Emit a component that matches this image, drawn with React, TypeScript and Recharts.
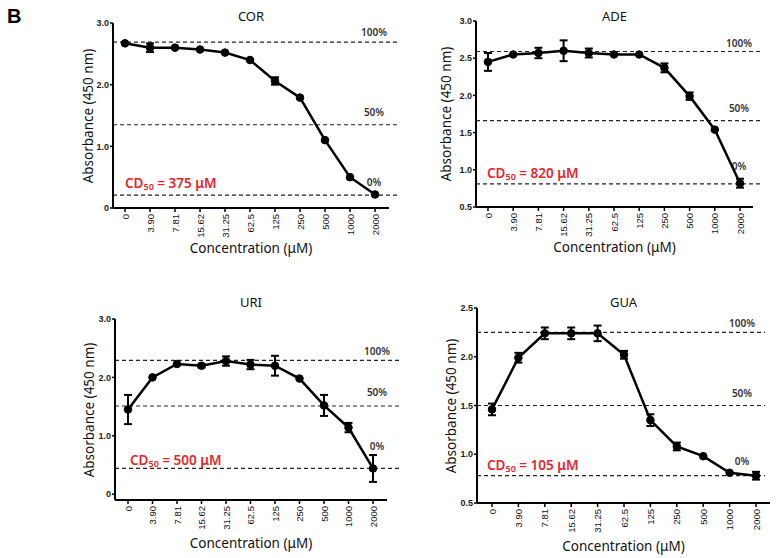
import React from 'react';
import { LineChart, Line, XAxis, YAxis, ErrorBar, ReferenceLine } from 'recharts';

const CATEGORIES = ['0', '3.90', '7.81', '15.62', '31.25', '62.5', '125', '250', '500', '1000', '2000'];

const COR_MEAN = [2.67, 2.6, 2.6, 2.57, 2.52, 2.4, 2.06, 1.79, 1.1, 0.5, 0.22];
const COR_ERR = [0, 0.07, 0, 0, 0, 0, 0.06, 0, 0, 0, 0];
const COR_LEVELS = [2.69, 1.35, 0.21];

const ADE_MEAN = [2.45, 2.55, 2.57, 2.6, 2.57, 2.55, 2.55, 2.37, 1.99, 1.54, 0.82];
const ADE_ERR = [0.12, 0, 0.07, 0.14, 0.06, 0, 0, 0.06, 0.05, 0, 0.06];
const ADE_LEVELS = [2.59, 1.66, 0.81];

const URI_MEAN = [1.45, 2.0, 2.23, 2.2, 2.28, 2.22, 2.2, 1.98, 1.52, 1.14, 0.44];
const URI_ERR = [0.25, 0, 0, 0.03, 0.08, 0.08, 0.17, 0, 0.18, 0.08, 0.23];
const URI_LEVELS = [2.29, 1.51, 0.44];

const GUA_MEAN = [1.46, 1.99, 2.24, 2.24, 2.24, 2.02, 1.35, 1.08, 0.98, 0.81, 0.78];
const GUA_ERR = [0.06, 0.05, 0.06, 0.06, 0.08, 0.04, 0.06, 0.04, 0, 0, 0.04];
const GUA_LEVELS = [2.25, 1.5, 0.78];

const LEVEL_LABELS = ['100%', '50%', '0%'];

const TICKS_0_3 = [0, 1, 2, 3];
const TICKS_05_3 = [0.5, 1, 1.5, 2, 2.5, 3];
const TICKS_05_25 = [0.5, 1, 1.5, 2, 2.5];

const FONT = '"Noto Sans", "Open Sans", sans-serif';
const TICK_FONT = '"Liberation Sans", Arial, sans-serif';
const RED = '#e3262d';

const Y_W = 50;
const M_TOP = 12;
const M_RIGHT = 18;
const X_H = 56;

const panels = [
  {
    title: 'COR', mean: COR_MEAN, err: COR_ERR, levels: COR_LEVELS, cd50: '375',
    domain: [0, 3], ticks: TICKS_0_3,
    axisX: 113, plotTop: 23, plotBottom: 208, plotRight: 389, padL: 12, padR: 14,
    dashExt: 9, labelInset: 15, labelRise: [10, 12, 13],
    titleY: 16, yTitleDx: 25, xTitleDy: 40, cdX: 125, cdY: 183,
  },
  {
    title: 'ADE', mean: ADE_MEAN, err: ADE_ERR, levels: ADE_LEVELS, cd50: '820',
    domain: [0.5, 3], ticks: TICKS_05_3,
    axisX: 476, plotTop: 21, plotBottom: 207, plotRight: 753, padL: 12, padR: 13,
    dashExt: 7, labelInset: 14, labelRise: [8, 12, 17],
    titleY: 16, yTitleDx: 30, xTitleDy: 40, cdX: 487, cdY: 173,
  },
  {
    title: 'URI', mean: URI_MEAN, err: URI_ERR, levels: URI_LEVELS, cd50: '500',
    domain: [-0.1, 3], ticks: TICKS_0_3,
    axisX: 115, plotTop: 319, plotBottom: 500, plotRight: 387, padL: 13, padR: 14,
    dashExt: 13, labelInset: 10, labelRise: [9, 13, 22],
    titleY: 302, yTitleDx: 26, xTitleDy: 43, cdX: 130, cdY: 460,
  },
  {
    title: 'GUA', mean: GUA_MEAN, err: GUA_ERR, levels: GUA_LEVELS, cd50: '105',
    domain: [0.5, 2.5], ticks: TICKS_05_25,
    axisX: 477, plotTop: 308, plotBottom: 503, plotRight: 770, padL: 15, padR: 14,
    dashExt: -5, labelInset: 28, labelRise: [9, 12, 14],
    titleY: 302, yTitleDx: 26, xTitleDy: 43, cdX: 487, cdY: 465,
  },
];

const fmtY = (v: number) => (v === 0 ? '0' : v.toFixed(1));

const XTick = (props: any) => {
  const { x, y, payload } = props;
  return (
    <text
      x={x}
      y={y}
      transform={`rotate(-90 ${x} ${y})`}
      textAnchor="end"
      dominantBaseline="central"
      fontSize={9.5}
      fontFamily={TICK_FONT}
      fill="#111"
    >
      {payload.value}
    </text>
  );
};

function Panel({ p }: { p: any }) {
  const data = CATEGORIES.map((c, i) => ({ conc: c, mean: p.mean[i], err: p.err[i] }));
  const left = p.axisX - Y_W;
  const top = p.plotTop - M_TOP;
  const width = p.plotRight + M_RIGHT - left;
  const height = p.plotBottom + X_H - top;
  const plotMidX = (p.axisX + p.plotRight) / 2;
  const plotMidY = (p.plotTop + p.plotBottom) / 2;

  return (
    <>
      <div
        style={{
          position: 'absolute', left: p.axisX, width: p.plotRight - p.axisX, top: p.titleY - 10,
          height: 20, lineHeight: '20px', textAlign: 'center', fontSize: 13, fontFamily: FONT, color: '#111',
        }}
      >
        {p.title}
      </div>
      <div style={{ position: 'absolute', left, top, width, height }}>
        <LineChart width={width} height={height} data={data} margin={{ top: M_TOP, right: M_RIGHT, left: 0, bottom: 0 }}>
          <XAxis
            dataKey="conc"
            scale="point"
            padding={{ left: p.padL, right: p.padR }}
            height={X_H}
            interval={0}
            axisLine={{ stroke: '#000', strokeWidth: 2 }}
            tickLine={{ stroke: '#000', strokeWidth: 1.5 }}
            tickSize={4}
            tickMargin={2}
            tick={<XTick />}
          />
          <YAxis
            type="number"
            domain={p.domain}
            ticks={p.ticks}
            allowDataOverflow
            width={Y_W}
            interval={0}
            axisLine={{ stroke: '#000', strokeWidth: 2 }}
            tickLine={{ stroke: '#000', strokeWidth: 1.5 }}
            tickSize={3}
            tickMargin={1}
            tickFormatter={fmtY}
            tick={{ fontSize: 9, fontWeight: 700, fill: '#222', fontFamily: TICK_FONT }}
          />
          {p.levels.map((lv: number, i: number) => (
            <ReferenceLine
              key={i}
              y={lv}
              shape={(s: any) => (
                <g>
                  <line
                    x1={s.x1}
                    y1={s.y1}
                    x2={s.x2 + p.dashExt}
                    y2={s.y2}
                    stroke="#222"
                    strokeWidth={1.2}
                    strokeDasharray="4 3"
                  />
                  <text
                    x={s.x2 - p.labelInset}
                    y={s.y1 - p.labelRise[i] + 3.5}
                    textAnchor="middle"
                    fontSize={10}
                    fontWeight={600}
                    fontFamily={FONT}
                    fill="#333"
                  >
                    {LEVEL_LABELS[i]}
                  </text>
                </g>
              )}
            />
          ))}
          <Line
            type="linear"
            dataKey="mean"
            stroke="#000"
            strokeWidth={2.5}
            dot={{ r: 3.8, fill: '#000', stroke: '#000', strokeWidth: 1 }}
            activeDot={false}
            isAnimationActive={false}
          >
            <ErrorBar dataKey="err" width={4} strokeWidth={2} stroke="#000" direction="y" isAnimationActive={false} />
          </Line>
        </LineChart>
      </div>
      <div
        style={{
          position: 'absolute', left: p.axisX - p.yTitleDx - 100, top: plotMidY - 10, width: 200, height: 20,
          lineHeight: '20px', textAlign: 'center', transform: 'rotate(-90deg)', fontSize: 13.5,
          fontFamily: FONT, color: '#111', whiteSpace: 'nowrap',
        }}
      >
        Absorbance (450 nm)
      </div>
      <div
        style={{
          position: 'absolute', left: plotMidX - 100, top: p.plotBottom + p.xTitleDy - 10, width: 200, height: 20,
          lineHeight: '20px', textAlign: 'center', fontSize: 13.5, fontFamily: FONT, color: '#111', whiteSpace: 'nowrap',
        }}
      >
        Concentration (μM)
      </div>
      <div
        style={{
          position: 'absolute', left: p.cdX, top: p.cdY - 10, height: 20, lineHeight: '20px',
          fontSize: 13.5, fontWeight: 600, fontFamily: FONT, color: RED, whiteSpace: 'nowrap',
        }}
      >
        CD<sub style={{ fontSize: 9, verticalAlign: '-2px' }}>50</sub> = {p.cd50} μM
      </div>
    </>
  );
}

export default function App() {
  return (
    <div style={{ position: 'absolute', left: 0, top: 0, width: 779, height: 558, background: '#fff', overflow: 'hidden' }}>
      <div style={{ position: 'absolute', left: 7, top: 5, fontSize: 20, fontWeight: 700, fontFamily: TICK_FONT }}>B</div>
      {panels.map((p) => (
        <Panel key={p.title} p={p} />
      ))}
    </div>
  );
}
